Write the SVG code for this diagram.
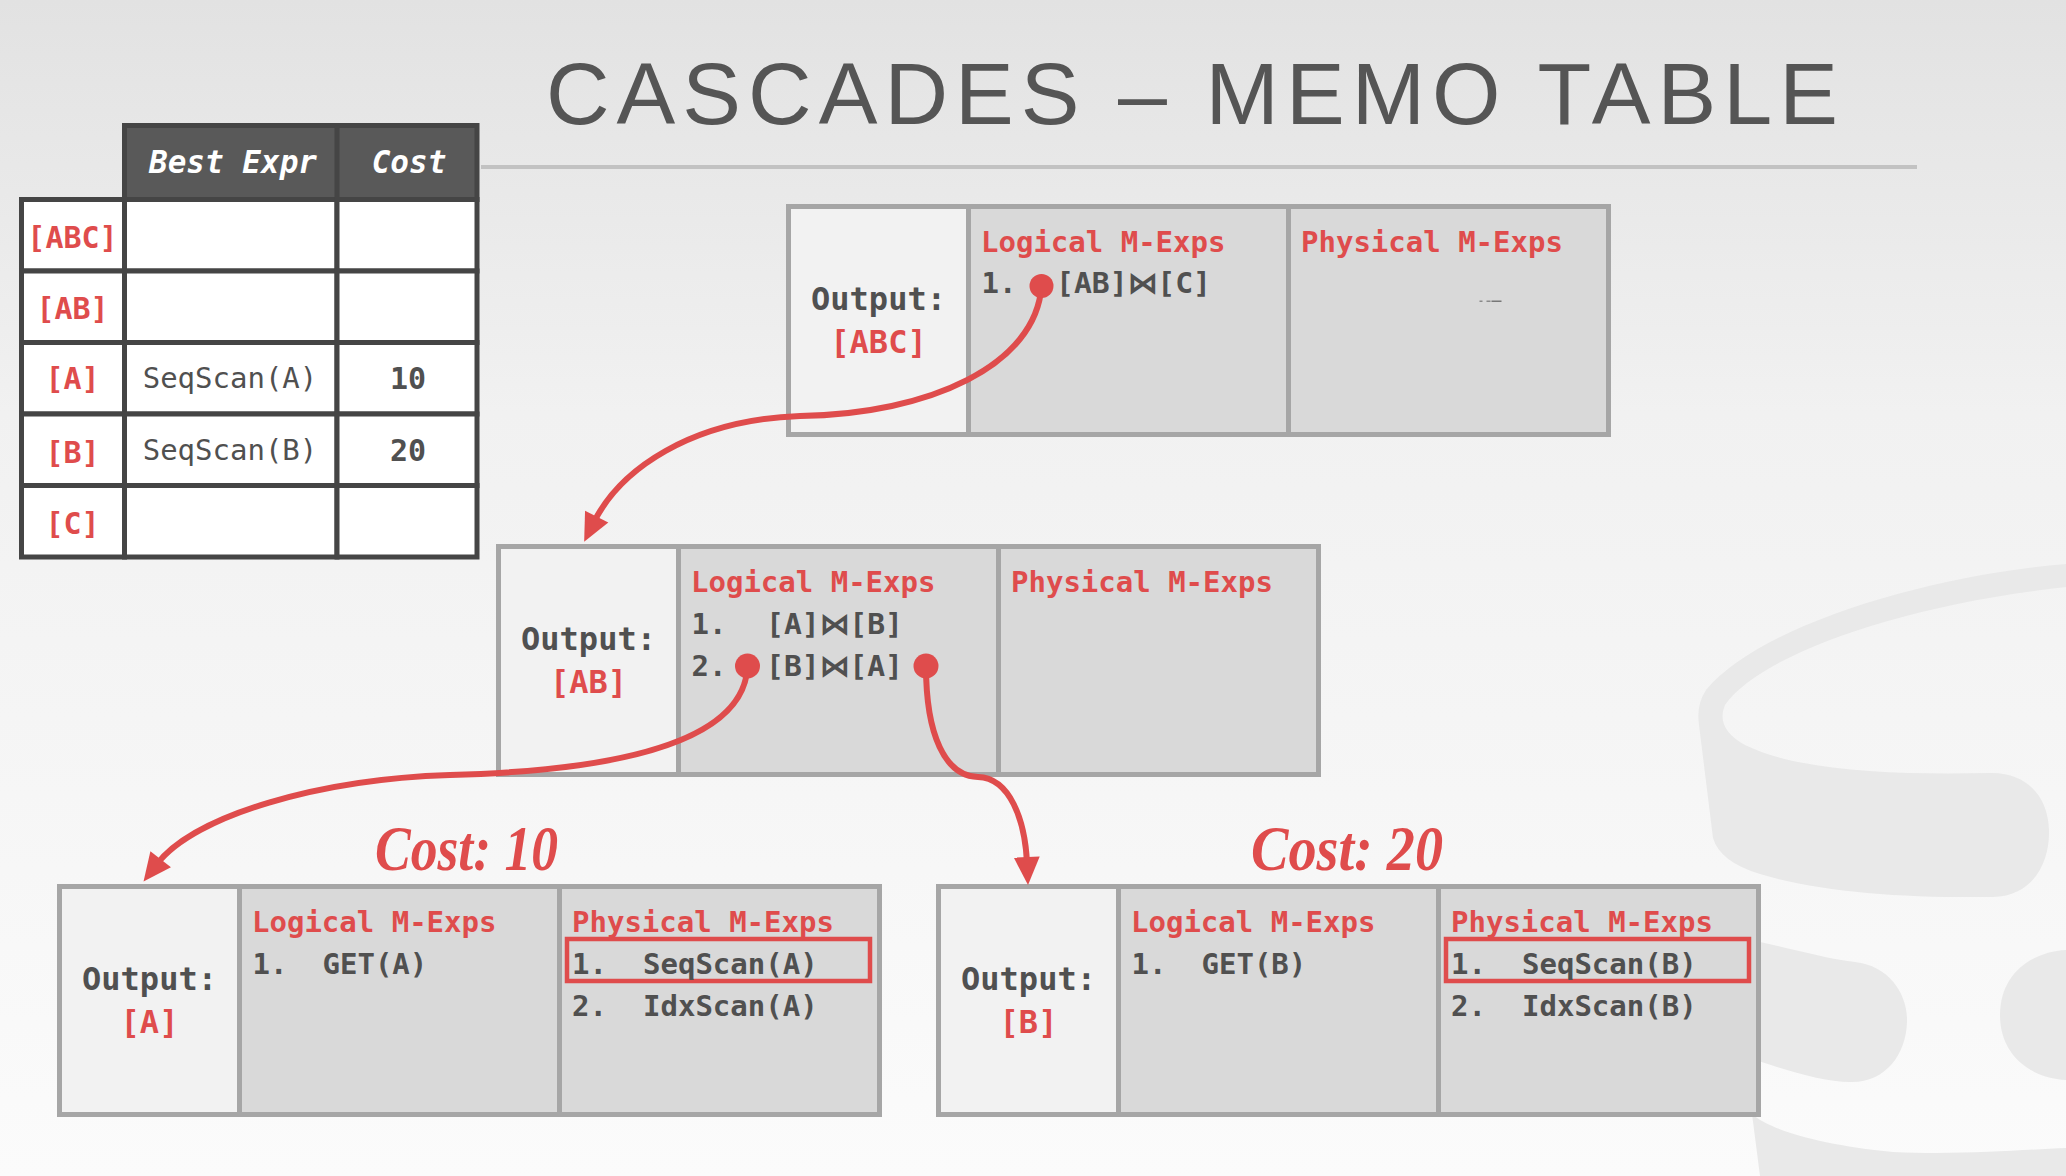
<svg xmlns="http://www.w3.org/2000/svg" width="2066" height="1176" viewBox="0 0 2066 1176">
<defs>
  <linearGradient id="bg" x1="0" y1="0" x2="0" y2="1">
    <stop offset="0" stop-color="#e2e2e2"/>
    <stop offset="0.35" stop-color="#f1f1f1"/>
    <stop offset="1" stop-color="#fbfbfb"/>
  </linearGradient>
  <marker id="arrow" markerUnits="userSpaceOnUse" markerWidth="30" markerHeight="30" refX="6" refY="0" orient="auto" overflow="visible">
    <path d="M0,-13 L28,0 L0,13 z" fill="#df4c4c"/>
  </marker>
</defs>
<style>
  .mono { font-family: "DejaVu Sans Mono", "Liberation Mono", monospace; }
  .b { font-weight: bold; }
  .red { fill: #df4c4c; }
  .dark { fill: #505050; }
  .hdr { fill: #ffffff; font-weight: bold; font-style: italic; font-size: 31px; text-anchor: middle; }
  .hdrbox { fill: #595959; stroke: #454545; stroke-width: 5; }
  .cell { fill: #ffffff; stroke: #454545; stroke-width: 5; }
  .tl { font-size: 30px; text-anchor: middle; }
  .out { fill: #f2f2f2; }
  .exp { fill: #d9d9d9; }
  .border { fill: none; stroke: #a6a6a6; stroke-width: 5; }
  .lt { font-size: 29px; font-weight: bold; }
  .ot { font-size: 32px; font-weight: bold; text-anchor: middle; }
  .conn { fill: none; stroke: #df4c4c; stroke-width: 6; stroke-linecap: round; }
  .dot { fill: #df4c4c; }
  .hl { fill: none; stroke: #df4c4c; stroke-width: 4.5; }
  .cost { font-family: "Liberation Serif", serif; font-weight: bold; font-style: italic; font-size: 64px; fill: #df4c4c; }
  .wm { fill: #e9e9e9; }
</style>

<rect x="0" y="0" width="2066" height="1176" fill="url(#bg)"/>

<!-- watermark logo -->
<g id="watermark">
  <path class="wm" d="M2066,564 C1930,575 1760,625 1706,690 Q1696,705 1699,725 L1713,838 Q1720,862 1760,874 C1820,892 1900,898 1993,897 C2035,896 2050,860 2049,830 C2048,795 2025,772 1990,773 C1900,775 1800,772 1745,745 Q1715,728 1725,705 C1760,655 1900,605 2066,587 Z"/>
  <path class="wm" d="M1740,938 C1780,945 1820,958 1855,962 C1890,966 1908,995 1907,1022 C1906,1055 1885,1083 1850,1082 C1820,1082 1780,1068 1740,1055 Z"/>
  <path class="wm" d="M2066,950 C2030,952 2000,975 2000,1015 C2000,1055 2030,1078 2066,1080 Z"/>
  <path class="wm" d="M1752,1114 C1770,1130 1820,1145 1893,1152 C1960,1155 2020,1150 2066,1148 L2066,1176 L1760,1176 Z"/>
</g>

<!-- title -->
<g id="title">
  <text x="546" y="124" font-family="'Liberation Sans', Arial, sans-serif" font-size="88" fill="#555555" textLength="1292" lengthAdjust="spacing">CASCADES – MEMO TABLE</text>
  <line x1="481" y1="167" x2="1917" y2="167" stroke="#c2c2c2" stroke-width="4"/>
</g>

<!-- memo table -->
<g id="best-table" class="mono">
  <rect class="hdrbox" x="124.5" y="125.5" width="352.5" height="74"/>
  <line x1="337" y1="125.5" x2="337" y2="199.5" stroke="#454545" stroke-width="5"/>
  <text class="hdr" x="233" y="173">Best Expr</text>
  <text class="hdr" x="409" y="173">Cost</text>

  <rect class="cell" x="21.5" y="199.5" width="103" height="71.5"/>
  <rect class="cell" x="124.5" y="199.5" width="212.5" height="71.5"/>
  <rect class="cell" x="337" y="199.5" width="140" height="71.5"/>

  <rect class="cell" x="21.5" y="271" width="103" height="71.5"/>
  <rect class="cell" x="124.5" y="271" width="212.5" height="71.5"/>
  <rect class="cell" x="337" y="271" width="140" height="71.5"/>

  <rect class="cell" x="21.5" y="342.5" width="103" height="71.5"/>
  <rect class="cell" x="124.5" y="342.5" width="212.5" height="71.5"/>
  <rect class="cell" x="337" y="342.5" width="140" height="71.5"/>

  <rect class="cell" x="21.5" y="414" width="103" height="71.5"/>
  <rect class="cell" x="124.5" y="414" width="212.5" height="71.5"/>
  <rect class="cell" x="337" y="414" width="140" height="71.5"/>

  <rect class="cell" x="21.5" y="485.5" width="103" height="71.5"/>
  <rect class="cell" x="124.5" y="485.5" width="212.5" height="71.5"/>
  <rect class="cell" x="337" y="485.5" width="140" height="71.5"/>

  <text class="tl b red" x="72.5" y="248">[ABC]</text>
  <text class="tl b red" x="72.5" y="319">[AB]</text>
  <text class="tl b red" x="72.5" y="389">[A]</text>
  <text class="tl b red" x="72.5" y="463">[B]</text>
  <text class="tl b red" x="72.5" y="534">[C]</text>

  <text class="dark" x="230" y="388" font-size="29" text-anchor="middle">SeqScan(A)</text>
  <text class="dark" x="230" y="460" font-size="29" text-anchor="middle">SeqScan(B)</text>
  <text class="tl b dark" x="408" y="389">10</text>
  <text class="tl b dark" x="408" y="461">20</text>
</g>

<!-- group [ABC] -->
<g id="node-ABC" class="mono" transform="translate(788.5,206.5)">
  <rect class="out" x="0" y="0" width="180" height="228"/>
  <rect class="exp" x="180" y="0" width="320" height="228"/>
  <rect class="exp" x="500" y="0" width="320" height="228"/>
  <rect class="border" x="0" y="0" width="820" height="228"/>
  <line class="border" x1="180" y1="0" x2="180" y2="228"/>
  <line class="border" x1="500" y1="0" x2="500" y2="228"/>
  <text class="ot dark" x="90" y="103.5">Output:</text>
  <text class="ot red" x="90" y="146.5">[ABC]</text>
  <text class="lt red" x="192.5" y="45.5">Logical M-Exps</text>
  <text class="lt dark" x="193" y="86.5">1.</text>
  <text class="lt dark" x="267.5" y="86.5" textLength="155" lengthAdjust="spacingAndGlyphs">[AB]⋈[C]</text>
  <text class="lt red" x="512.5" y="45.5">Physical M-Exps</text>
  <rect x="691" y="94" width="3" height="1.5" fill="#8a8a8a"/>
  <rect x="698" y="94" width="4" height="1.5" fill="#8a8a8a"/>
  <rect x="703" y="94" width="10" height="1.5" fill="#777777"/>
</g>

<!-- group [AB] -->
<g id="node-AB" class="mono" transform="translate(498.5,546.5)">
  <rect class="out" x="0" y="0" width="180" height="228"/>
  <rect class="exp" x="180" y="0" width="320" height="228"/>
  <rect class="exp" x="500" y="0" width="320" height="228"/>
  <rect class="border" x="0" y="0" width="820" height="228"/>
  <line class="border" x1="180" y1="0" x2="180" y2="228"/>
  <line class="border" x1="500" y1="0" x2="500" y2="228"/>
  <text class="ot dark" x="90" y="103.5">Output:</text>
  <text class="ot red" x="90" y="146.5">[AB]</text>
  <text class="lt red" x="192.5" y="45.5">Logical M-Exps</text>
  <text class="lt dark" x="193" y="87.5">1.</text>
  <text class="lt dark" x="267.5" y="87.5" textLength="137" lengthAdjust="spacingAndGlyphs">[A]⋈[B]</text>
  <text class="lt dark" x="193" y="129.5">2.</text>
  <text class="lt dark" x="267.5" y="129.5" textLength="137" lengthAdjust="spacingAndGlyphs">[B]⋈[A]</text>
  <text class="lt red" x="512.5" y="45.5">Physical M-Exps</text>
</g>

<!-- group [A] -->
<g id="node-A" class="mono" transform="translate(59.5,886.5)">
  <rect class="out" x="0" y="0" width="180" height="228"/>
  <rect class="exp" x="180" y="0" width="320" height="228"/>
  <rect class="exp" x="500" y="0" width="320" height="228"/>
  <rect class="border" x="0" y="0" width="820" height="228"/>
  <line class="border" x1="180" y1="0" x2="180" y2="228"/>
  <line class="border" x1="500" y1="0" x2="500" y2="228"/>
  <text class="ot dark" x="90" y="103.5">Output:</text>
  <text class="ot red" x="90" y="146.5">[A]</text>
  <text class="lt red" x="192.5" y="45.5">Logical M-Exps</text>
  <text class="lt dark" x="193" y="87">1.</text>
  <text class="lt dark" x="263" y="87">GET(A)</text>
  <text class="lt red" x="512.5" y="45.5">Physical M-Exps</text>
  <rect class="hl" x="507.5" y="52.5" width="303" height="42"/>
  <text class="lt dark" x="512.5" y="87">1.</text>
  <text class="lt dark" x="583.5" y="87">SeqScan(A)</text>
  <text class="lt dark" x="512.5" y="129">2.</text>
  <text class="lt dark" x="583.5" y="129">IdxScan(A)</text>
</g>

<!-- group [B] -->
<g id="node-B" class="mono" transform="translate(938.5,886.5)">
  <rect class="out" x="0" y="0" width="180" height="228"/>
  <rect class="exp" x="180" y="0" width="320" height="228"/>
  <rect class="exp" x="500" y="0" width="320" height="228"/>
  <rect class="border" x="0" y="0" width="820" height="228"/>
  <line class="border" x1="180" y1="0" x2="180" y2="228"/>
  <line class="border" x1="500" y1="0" x2="500" y2="228"/>
  <text class="ot dark" x="90" y="103.5">Output:</text>
  <text class="ot red" x="90" y="146.5">[B]</text>
  <text class="lt red" x="192.5" y="45.5">Logical M-Exps</text>
  <text class="lt dark" x="193" y="87">1.</text>
  <text class="lt dark" x="263" y="87">GET(B)</text>
  <text class="lt red" x="512.5" y="45.5">Physical M-Exps</text>
  <rect class="hl" x="507.5" y="52.5" width="303" height="42"/>
  <text class="lt dark" x="512.5" y="87">1.</text>
  <text class="lt dark" x="583.5" y="87">SeqScan(B)</text>
  <text class="lt dark" x="512.5" y="129">2.</text>
  <text class="lt dark" x="583.5" y="129">IdxScan(B)</text>
</g>

<!-- cost labels -->
<g id="cost-labels">
  <text class="cost" x="375" y="870" textLength="183" lengthAdjust="spacingAndGlyphs">Cost: 10</text>
  <text class="cost" x="1251" y="870" textLength="192" lengthAdjust="spacingAndGlyphs">Cost: 20</text>
</g>

<!-- connectors -->
<g id="connectors">
  <path class="conn" d="M1041.5,286 C1036,365 930,414 800,416 C690,420 620,470 594,522" marker-end="url(#arrow)"/>
  <path class="conn" d="M747.5,666 C745,735 640,770 450,775 C320,779 195,815 157,864" marker-end="url(#arrow)"/>
  <path class="conn" d="M926,666 C926,735 945,776 978,777 C1010,778 1025,820 1027,863" marker-end="url(#arrow)"/>
  <circle class="dot" cx="1041.5" cy="286" r="12"/>
  <circle class="dot" cx="747.5" cy="666" r="12.5"/>
  <circle class="dot" cx="926" cy="666" r="12.5"/>
</g>
</svg>
